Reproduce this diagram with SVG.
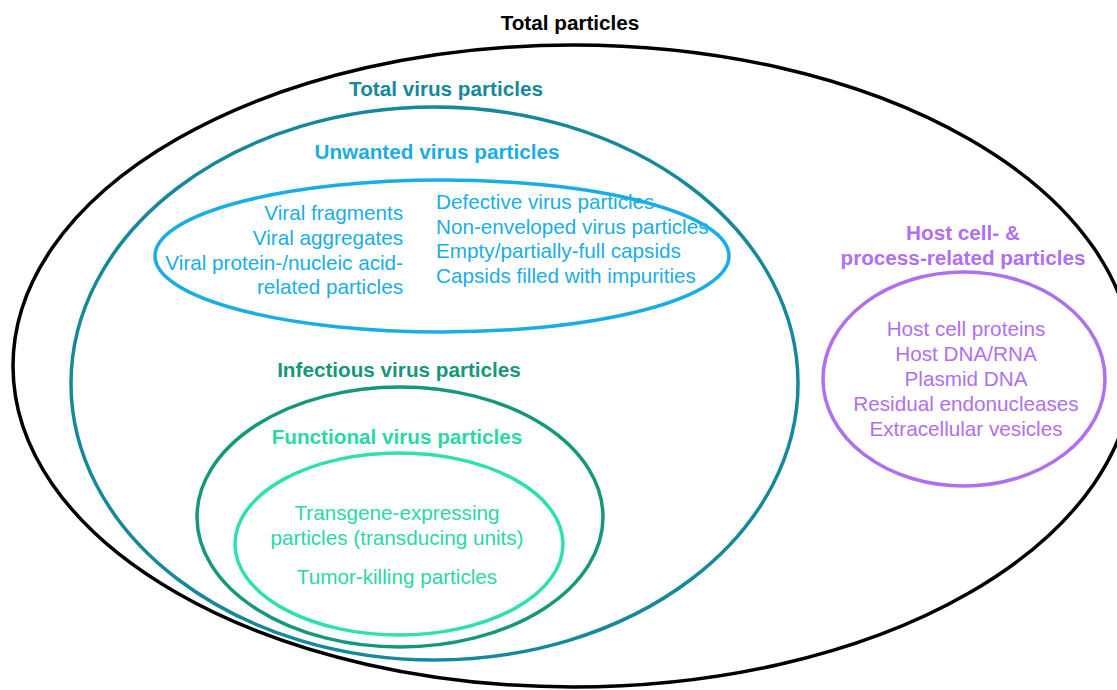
<svg xmlns="http://www.w3.org/2000/svg" width="1117" height="690" viewBox="0 0 1117 690">
<style>
text{font-family:"Liberation Sans",Arial,sans-serif;font-size:20.7px}
.b{font-weight:bold}
.e{fill:none;stroke-width:3.5}
.c{text-anchor:middle}
.r{text-anchor:end}
.teal{fill:#16889c}.tealS{stroke:#16889c}
.blue{fill:#19ade8}.blueS{stroke:#19ade8}
.dg{fill:#15977b}.dgS{stroke:#15977b}
.lg{fill:#2ad7a8}.lgS{stroke:#2de0ae}
.pu{fill:#b06ff0}.puS{stroke:#b06ff0}
</style>
<rect width="1117" height="690" fill="#fff"/>
<g id="total">
<ellipse class="e" cx="573" cy="366" rx="560" ry="321" stroke="#000" stroke-width="4"/>
<text class="b c" x="570" y="30" fill="#000">Total particles</text>
</g>
<g id="total-virus">
<ellipse class="e tealS" cx="434.5" cy="383.5" rx="363.5" ry="276.5"/>
<text class="b c teal" x="446" y="96">Total virus particles</text>
</g>
<g id="unwanted">
<ellipse class="e blueS" cx="442" cy="256" rx="287" ry="76"/>
<text class="b c blue" x="437" y="159">Unwanted virus particles</text>
<text class="r blue" x="403" y="220">Viral fragments</text>
<text class="r blue" x="403" y="245">Viral aggregates</text>
<text class="r blue" x="403" y="270">Viral protein-/nucleic acid-</text>
<text class="r blue" x="403" y="294">related particles</text>
<text class="blue" x="436" y="209">Defective virus particles</text>
<text class="blue" x="436" y="234">Non-enveloped virus particles</text>
<text class="blue" x="436" y="258">Empty/partially-full capsids</text>
<text class="blue" x="436" y="283">Capsids filled with impurities</text>
</g>
<g id="infectious">
<ellipse class="e dgS" cx="400" cy="517" rx="203" ry="130"/>
<text class="b c dg" x="399" y="377">Infectious virus particles</text>
</g>
<g id="functional">
<ellipse class="e lgS" cx="399" cy="544" rx="164" ry="91"/>
<text class="b c lg" x="397" y="444">Functional virus particles</text>
<text class="c lg" x="397" y="520">Transgene-expressing</text>
<text class="c lg" x="397" y="545">particles (transducing units)</text>
<text class="c lg" x="397" y="584">Tumor-killing particles</text>
</g>
<g id="host">
<ellipse class="e puS" cx="964" cy="379" rx="141" ry="107"/>
<text class="b c pu" x="963" y="240">Host cell- &amp;</text>
<text class="b c pu" x="963" y="265">process-related particles</text>
<text class="c pu" x="966" y="336">Host cell proteins</text>
<text class="c pu" x="966" y="361">Host DNA/RNA</text>
<text class="c pu" x="966" y="386">Plasmid DNA</text>
<text class="c pu" x="966" y="411">Residual endonucleases</text>
<text class="c pu" x="966" y="436">Extracellular vesicles</text>
</g>
<g id="connectors"/>
</svg>
